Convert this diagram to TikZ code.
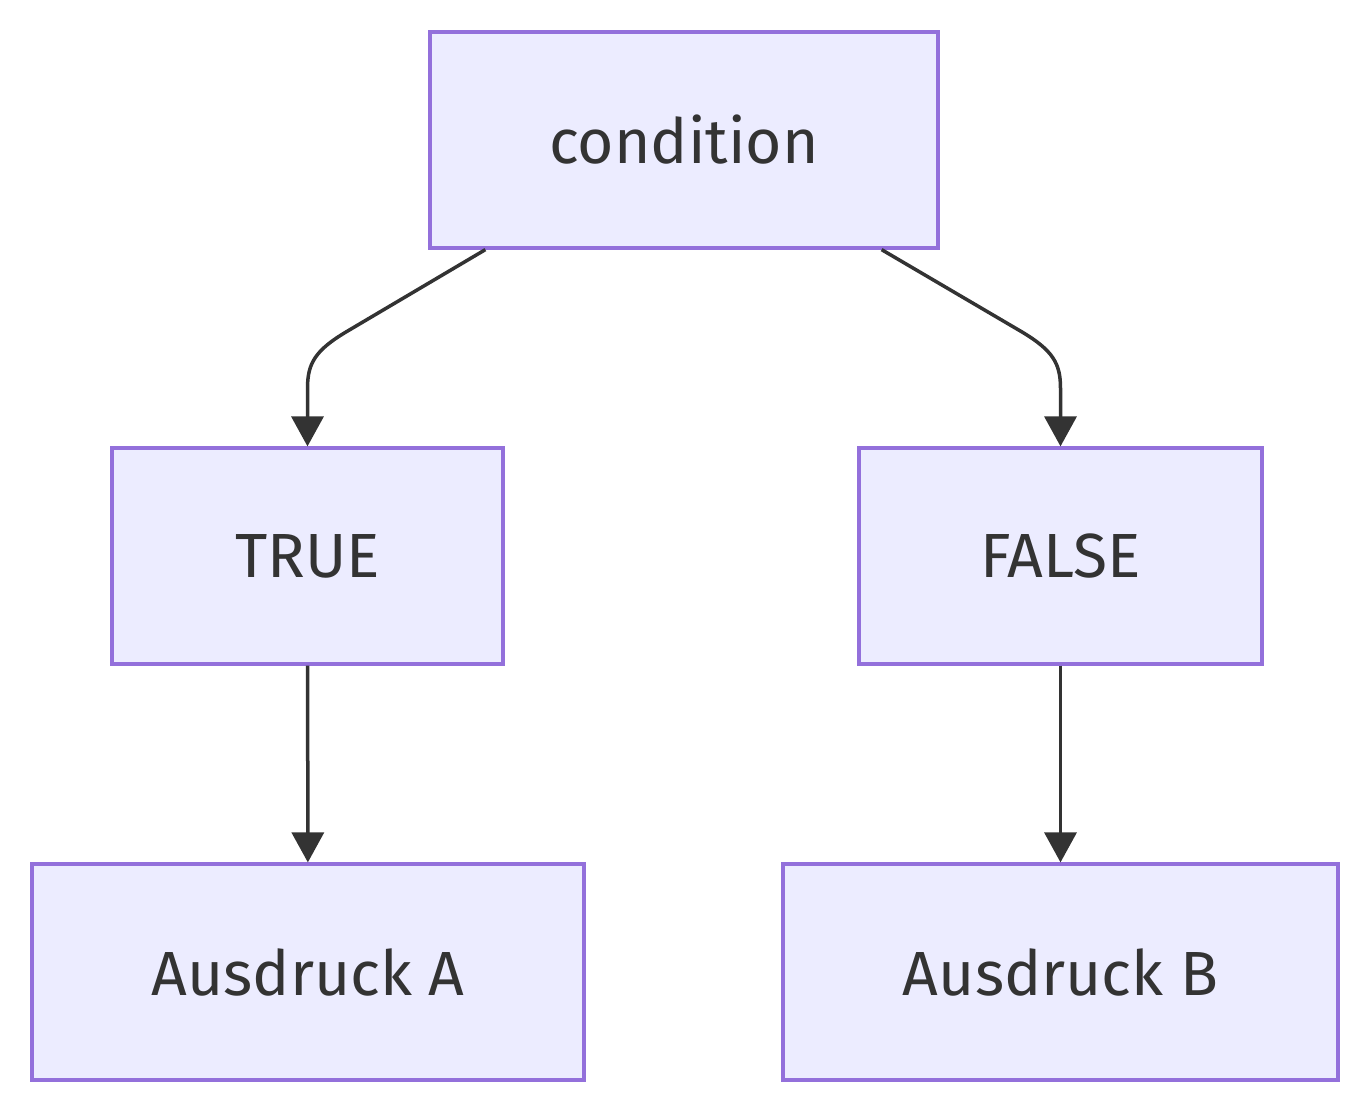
\documentclass[tikz,border=0pt]{standalone}
\usepackage{fontspec}
\setmainfont{Fira Sans}
\usepackage{tikz}
\usepackage{xcolor}
\usetikzlibrary{calc}
\usetikzlibrary{arrows.meta}
\definecolor{boxfill}{HTML}{ECECFF}
\definecolor{boxline}{HTML}{9370DB}
\definecolor{ink}{HTML}{333333}
\tikzset{
    block/.style = {draw=boxline, fill=boxfill, rectangle, line width=0.065cm,
        text=ink, inner sep=0pt,
        minimum height=4.32cm,
        font=\fontsize{35.5}{43}\selectfont},
    arrow/.style = {draw=ink, line width=0.07cm,
        -{Triangle[length=0.6cm,width=0.64cm]}}
}
\begin{document}
\begin{tikzpicture}
            \useasboundingbox (0,0) rectangle (27.36,-22.24);
            \node [block, minimum width=10.16cm] (cond) at (13.68,-2.80) {condition};
            \node [block, minimum width=7.82cm] (true) at (6.15,-11.12) {TRUE};
            \node [block, minimum width=8.06cm] (false) at (21.21,-11.12) {FALSE};
            \node [block, minimum width=11.04cm] (exprA) at (6.16,-19.44) {Ausdruck A};
            \node [block, minimum width=11.10cm] (exprB) at (21.21,-19.44) {Ausdruck B};
            % curved links from the condition
            \draw [arrow] ([xshift=1.14cm]cond.south west)
                -- ($(true.north)+(0.79,2.30)$)
                .. controls ($(true.north)+(0.15,1.92)$) and ($(true.north)+(0,1.66)$) .. ($(true.north)+(0,1.16)$)
                -- (true.north);
            \draw [arrow] ([xshift=-1.16cm]cond.south east)
                -- ($(false.north)+(-0.79,2.30)$)
                .. controls ($(false.north)+(-0.15,1.92)$) and ($(false.north)+(0,1.66)$) .. ($(false.north)+(0,1.16)$)
                -- (false.north);
            \draw [arrow] (true) -- (exprA);
            \draw [arrow] (false) -- (exprB);
        \end{tikzpicture}
\end{document}
